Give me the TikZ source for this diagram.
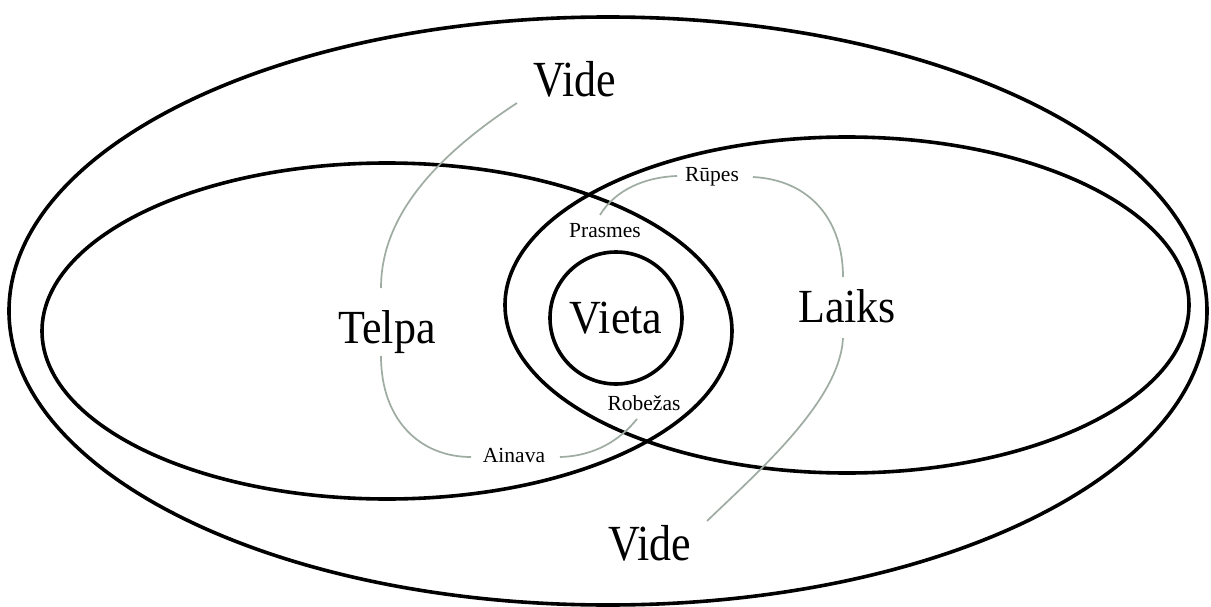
\documentclass[tikz,border=0pt]{standalone}
\usepackage{fontspec}
\usepackage{graphicx}
\setmainfont{Liberation Serif}
\definecolor{linkgray}{RGB}{158,172,162}
\tikzset{
  ring/.style={draw=black, line width=3.6pt},
  link/.style={draw=linkgray, line width=1.7pt},
  bigtxt/.style={inner sep=0pt, anchor=base, font=\fontsize{44}{48}\selectfont},
  smalltxt/.style={inner sep=0pt, anchor=base, font=\fontsize{21.5}{24}\selectfont},
}
\begin{document}
\begin{tikzpicture}[x=1pt, y=-1pt]
\useasboundingbox (0,0) rectangle (1211,607);
\fill[white] (0,0) rectangle (1211,607);
% ellipses
\draw[ring] (608,311) ellipse [x radius=599, y radius=294];
\draw[ring] (387,331) ellipse [x radius=345, y radius=168];
\draw[ring] (847,305) ellipse [x radius=342, y radius=168];
\draw[ring] (616,318) circle [radius=66];
% labels
\node[bigtxt] (vide1) at (575,97) {\scalebox{1}[1.15]{Vide}};
\node[bigtxt] (vide2) at (650,560) {\scalebox{1}[1.15]{Vide}};
\node[bigtxt] (telpa) at (387,343) {\scalebox{1}[1.08]{Telpa}};
\node[bigtxt] (laiks) at (847,322) {\scalebox{1}[1.08]{Laiks}};
\node[bigtxt] (vieta) at (616,333) {\scalebox{1}[1.08]{Vieta}};
\node[smalltxt] (prasmes) at (605,237) {Prasmes};
\node[smalltxt] (robezas) at (644,410) {Robežas};
\node[smalltxt] (ainava) at (514,462) {Ainava};
\node[smalltxt] (rupes) at (712,182) {Rūpes};
% connector ends
\coordinate (v1a) at (517,103);
\coordinate (ta) at (381,288);
\coordinate (tb) at (381,356);
\coordinate (aa) at (471,457);
\coordinate (ab) at (560,457);
\coordinate (ra) at (637,419);
\coordinate (pa) at (600,215);
\coordinate (rua) at (677,176);
\coordinate (rub) at (753,177);
\coordinate (la) at (843,277);
\coordinate (lb) at (843,338);
\coordinate (v2a) at (707,521);
% gray connectors
\draw[link] (v1a) .. controls (430,160) and (381,220) .. (ta);
\draw[link] (tb) .. controls (381,420) and (420,457) .. (aa);
\draw[link] (ab) .. controls (595,456) and (620,440) .. (ra);
\draw[link] (pa) .. controls (615,190) and (645,177) .. (rua);
\draw[link] (rub) .. controls (810,180) and (843,220) .. (la);
\draw[link] (lb) .. controls (840,400) and (760,470) .. (v2a);
\end{tikzpicture}
\end{document}
